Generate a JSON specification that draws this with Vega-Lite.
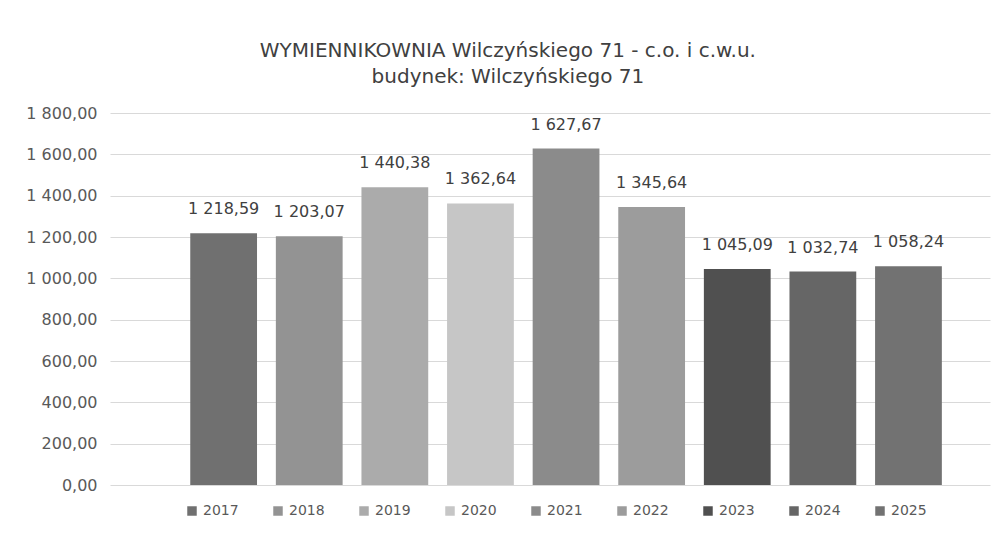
{
  "$schema": "https://vega.github.io/schema/vega-lite/v6.json",
  "width": 880,
  "height": 372,
  "autosize": {"type": "none"},
  "padding": {"left": 110, "top": 113, "right": 10, "bottom": 57},
  "background": "white",
  "title": {
    "text": ["WYMIENNIKOWNIA Wilczyńskiego 71 - c.o. i c.w.u.", "budynek: Wilczyńskiego 71"],
    "font": "DejaVu Sans",
    "fontSize": 20,
    "fontWeight": "normal",
    "color": "#404040",
    "anchor": "middle",
    "frame": "bounds",
    "offset": 18,
    "lineHeight": 26
  },
  "config": {
    "locale": {"number": {"decimal": ",", "thousands": " ", "grouping": [3], "currency": ["", " zł"]}},
    "view": {"stroke": null}
  },
  "data": {
    "values": [
      {"rok": "2017", "wartosc": 1218.59},
      {"rok": "2018", "wartosc": 1203.07},
      {"rok": "2019", "wartosc": 1440.38},
      {"rok": "2020", "wartosc": 1362.64},
      {"rok": "2021", "wartosc": 1627.67},
      {"rok": "2022", "wartosc": 1345.64},
      {"rok": "2023", "wartosc": 1045.09},
      {"rok": "2024", "wartosc": 1032.74},
      {"rok": "2025", "wartosc": 1058.24}
    ]
  },
  "encoding": {
    "x": {
      "field": "rok",
      "type": "nominal",
      "axis": null,
      "scale": {"paddingInner": 0.22, "paddingOuter": 0.75, "align": 0.625}
    },
    "y": {
      "field": "wartosc",
      "type": "quantitative",
      "scale": {"domain": [0, 1800], "nice": false},
      "axis": {
        "title": null,
        "values": [0, 200, 400, 600, 800, 1000, 1200, 1400, 1600, 1800],
        "format": ",.2f",
        "domain": false,
        "ticks": false,
        "gridColor": "#d9d9d9",
        "labelColor": "#595959",
        "labelFont": "DejaVu Sans",
        "labelFontSize": 16,
        "labelPadding": 13
      }
    }
  },
  "layer": [
    {
      "mark": {"type": "bar"},
      "encoding": {
        "color": {
          "field": "rok",
          "type": "nominal",
          "scale": {
            "range": ["#707070", "#939393", "#ababab", "#c6c6c6", "#8b8b8b", "#9c9c9c", "#505050", "#666666", "#727272"]
          },
          "legend": {
            "title": null,
            "orient": "none",
            "legendX": 75,
            "legendY": 391,
            "direction": "horizontal",
            "symbolType": "square",
            "symbolSize": 90,
            "symbolStrokeWidth": 0,
            "labelFont": "DejaVu Sans",
            "labelFontSize": 14,
            "labelColor": "#595959",
            "columnPadding": 32
          }
        }
      }
    },
    {
      "mark": {"type": "text", "baseline": "bottom", "dy": -16, "font": "DejaVu Sans", "fontSize": 16, "color": "#404040"},
      "encoding": {
        "text": {"field": "wartosc", "type": "quantitative", "format": ",.2f"}
      }
    }
  ]
}
